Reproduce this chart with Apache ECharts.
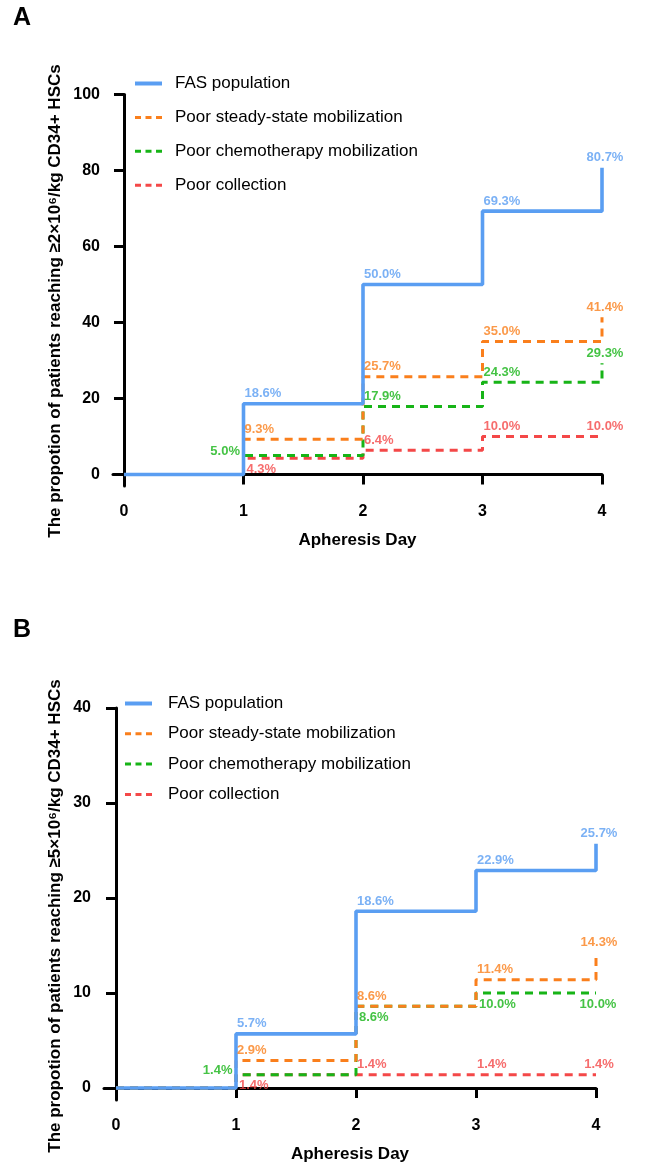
<!DOCTYPE html>
<html><head><meta charset="utf-8">
<script src="https://cdn.jsdelivr.net/npm/echarts@6/dist/echarts.min.js"></script>
<style>html,body{margin:0;padding:0;background:#fff}#c{width:651px;height:1167px}</style>
</head><body><div id="c"></div>
<script>
// ---------- data ----------
const days = [0, 1, 2, 3, 4];
const seriesNames = ['FAS population', 'Poor steady-state mobilization', 'Poor chemotherapy mobilization', 'Poor collection'];
const fasA = [0, 18.6, 50.0, 69.3, 80.7];
const steadyA = [0, 9.3, 25.7, 35.0, 41.4];
const chemoA = [0, 5.0, 17.9, 24.3, 29.3];
const collectA = [0, 4.3, 6.4, 10.0, 10.0];
const fasB = [0, 5.7, 18.6, 22.9, 25.7];
const steadyB = [0, 2.9, 8.6, 11.4, 14.3];
const chemoB = [0, 1.4, 8.6, 10.0, 10.0];
const collectB = [0, 1.4, 1.4, 1.4, 1.4];
const xTicks = [0, 1, 2, 3, 4];
const yTicksA = [0, 20, 40, 60, 80, 100];
const yTicksB = [0, 10, 20, 30, 40];
const yTitleA = 'The propotion of patients reaching \u22652\u00d710\u2076/kg CD34+ HSCs';
const yTitleB = 'The propotion of patients reaching \u22655\u00d710\u2076/kg CD34+ HSCs';
const xTitle = 'Apheresis Day';
const panelA = 'A', panelB = 'B';

// ---------- styles ----------
const colors = ['#5A9EF2', '#FA7F1C', '#17B417', '#F44848'];
const FONT = '"Liberation Sans", Arial, sans-serif';
const placeA = [
  ['', 'up', 'up', 'up', 'end'],
  ['', 'up', 'up', 'up', 'end'],
  ['', 'left', 'up', 'up', 'end'],
  ['', 'below', 'up', 'up', 'end']
];
const placeB = [
  ['', 'up', 'up', 'up', 'end'],
  ['', 'up', 'up', 'up', 'end'],
  ['', 'left', 'below', 'below', 'endBelow'],
  ['', 'below', 'up', 'up', 'end']
];
function labelFor(p) {
  switch (p) {
    case 'up': return { show: true, position: 'top', align: 'left', distance: 3, offset: [1, 0] };
    case 'end': return { show: true, position: 'top', align: 'center', distance: 3, offset: [3, 0] };
    case 'left': return { show: true, position: 'left', distance: 3, offset: [0, -4] };
    case 'below': return { show: true, position: 'bottom', align: 'left', distance: 4, offset: [3, 0] };
    case 'endBelow': return { show: true, position: 'bottom', align: 'center', distance: 4, offset: [2, 0] };
    default: return { show: false };
  }
}

const setsA = [fasA, steadyA, chemoA, collectA];
const setsB = [fasB, steadyB, chemoB, collectB];
const series = [];
function addPanel(sets, places, gi) {
  sets.forEach((vals, k) => {
    const dashed = k > 0;
    series.push({
      type: 'line', name: seriesNames[k], xAxisIndex: gi, yAxisIndex: gi,
      step: 'end', symbol: 'none', z: k === 0 ? 5 : 4 - k / 10,
      data: days.map((d, i) => [d, vals[i]]),
      lineStyle: { color: colors[k], width: dashed ? 3 : 3.6, type: dashed ? [8, 6] : 'solid', cap: 'butt' },
      itemStyle: { color: colors[k] },
      silent: true, animation: false
    });
    series.push({
      type: 'scatter', name: seriesNames[k] + ' labels', xAxisIndex: gi, yAxisIndex: gi,
      symbolSize: 1, itemStyle: { color: 'rgba(0,0,0,0)' }, z: 6, silent: true, animation: false,
      data: days.map((d, i) => ({ value: [d, vals[i]], label: labelFor(places[k][i]) })),
      label: {
        color: colors[k], fontSize: 13, fontWeight: 'bold', fontFamily: FONT,
        formatter: p => p.value[1].toFixed(1) + '%'
      }
    });
  });
}
addPanel(setsA, placeA, 0);
addPanel(setsB, placeB, 1);

function xAxisCfg(gi, min) {
  return {
    type: 'value', gridIndex: gi, min: min, max: 4,
    name: xTitle, nameLocation: 'middle', nameGap: 46,
    nameTextStyle: { fontFamily: FONT, fontWeight: 'bold', fontSize: 17, color: '#000' },
    axisLine: { lineStyle: { color: '#000', width: 3 } },
    axisTick: { customValues: xTicks, length: 10, lineStyle: { color: '#000', width: 3 } },
    axisLabel: { customValues: xTicks, margin: 18, fontFamily: FONT, fontWeight: 'bold', fontSize: 16, color: '#000' },
    splitLine: { show: false }
  };
}
function yAxisCfg(gi, min, max, ticks) {
  return {
    type: 'value', gridIndex: gi, min: min, max: max,
    axisLine: { show: true, lineStyle: { color: '#000', width: 3 } },
    axisTick: { show: true, customValues: ticks, length: 10, lineStyle: { color: '#000', width: 3 } },
    axisLabel: { customValues: ticks, margin: 13, fontFamily: FONT, fontWeight: 'bold', fontSize: 16, color: '#000' },
    splitLine: { show: false }
  };
}

const legendItems = seriesNames.map((n, k) => k === 0
  ? { name: n, lineStyle: { type: 'solid', width: 4, color: colors[0] } }
  : { name: n, lineStyle: { type: [6, 4.5], width: 3, color: colors[k] } });
const legendBase = {
  orient: 'vertical', data: legendItems, itemWidth: 27, itemHeight: 14,
  itemStyle: { opacity: 0 },
  selectedMode: false
};

const option = {
  backgroundColor: '#fff',
  animation: false,
  grid: [
    { left: 113, right: 49, top: 94.5, height: 391.5 },
    { left: 104, right: 55, top: 708, height: 392 }
  ],
  xAxis: [xAxisCfg(0, -0.092), xAxisCfg(1, -0.1)],
  yAxis: [yAxisCfg(0, -3.03, 100, yTicksA), yAxisCfg(1, -1.26, 40, yTicksB)],
  legend: [
    Object.assign({}, legendBase, { left: 128, top: 70, itemGap: 16.9,
      textStyle: { fontFamily: FONT, fontSize: 17, color: '#000', padding: [0, 0, 0, 8] } }),
    Object.assign({}, legendBase, { left: 118, top: 690, itemGap: 13.3,
      textStyle: { fontFamily: FONT, fontSize: 17, color: '#000', padding: [0, 0, 0, 11] } })
  ],
  graphic: [
    { type: 'text', left: 13, top: 6, style: { text: panelA, font: 'bold 25px ' + FONT, fill: '#000' } },
    { type: 'text', left: 13, top: 618, style: { text: panelB, font: 'bold 25px ' + FONT, fill: '#000' } },
    { type: 'text', x: 55, y: 301, rotation: Math.PI / 2,
      style: { text: yTitleA, font: 'bold 17px ' + FONT, fill: '#000', align: 'center', verticalAlign: 'middle' } },
    { type: 'text', x: 55, y: 916, rotation: Math.PI / 2,
      style: { text: yTitleB, font: 'bold 17px ' + FONT, fill: '#000', align: 'center', verticalAlign: 'middle' } }
  ],
  series: series
};
const chart = echarts.init(document.getElementById('c'), null, { renderer: 'canvas' });
chart.setOption(option);
</script>
</body></html>
